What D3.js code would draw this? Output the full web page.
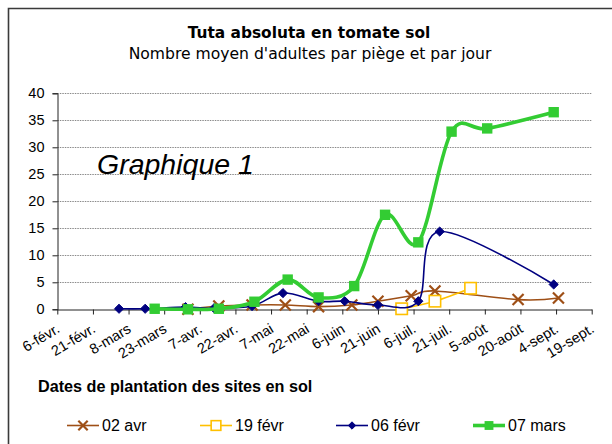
<!DOCTYPE html>
<html>
<head>
<meta charset="utf-8">
<script src="https://cdn.jsdelivr.net/npm/d3@7"></script>
<style>
  html, body { margin: 0; padding: 0; background: #fff; }
  svg { display: block; }
</style>
</head>
<body>
<svg id="chart" width="612" height="444"></svg>
<script>
// ---- Data ----
const seriesNames = ["02 avr", "19 févr", "06 févr", "07 mars"];

const avr02Dates  = ["2009-04-02","2009-04-15","2009-04-29","2009-05-13","2009-05-27","2009-06-10","2009-06-21","2009-07-05","2009-07-15","2009-08-19","2009-09-05"];
const avr02Values = [0.0, 0.6, 0.8, 0.8, 0.5, 0.8, 1.5, 2.5, 3.4, 1.8, 2.1];

const fevr19Dates  = ["2009-07-01","2009-07-15","2009-07-30"];
const fevr19Values = [0.1, 1.5, 3.9];

const fevr06Dates  = ["2009-03-04","2009-03-15","2009-04-01","2009-04-13","2009-04-29","2009-05-12","2009-05-27","2009-06-07","2009-06-21","2009-07-08","2009-07-17","2009-09-03"];
const fevr06Values = [0.1, 0.1, 0.4, 0.2, 0.6, 3.0, 1.5, 1.5, 0.8, 1.5, 14.4, 4.6];

const mars07Dates  = ["2009-03-19","2009-04-02","2009-04-15","2009-04-30","2009-05-14","2009-05-27","2009-06-11","2009-06-24","2009-07-08","2009-07-22","2009-08-06","2009-09-03"];
const mars07Values = [0.1, 0.0, 0.1, 1.4, 5.5, 2.2, 4.3, 17.5, 12.4, 32.9, 33.5, 36.5];

const xTickLabels = ["6-févr.","21-févr.","8-mars","23-mars","7-avr.","22-avr.","7-mai","22-mai","6-juin","21-juin","6-juil.","21-juil.","5-août","20-août","4-sept.","19-sept."];
const yTickValues = [0, 5, 10, 15, 20, 25, 30, 35, 40];

const xStart = "2009-02-06";
const xEnd   = "2009-09-19";

// ---- Setup ----
const parse = d3.utcParse("%Y-%m-%d");
const svg = d3.select("#chart");

const x = d3.scaleUtc().domain([parse(xStart), parse(xEnd)]).range([57.3, 591.7]);
const y = d3.scaleLinear().domain([0, 40]).range([309.3, 93.3]);

const xTickValues = xTickLabels.map((_, i) => d3.utcDay.offset(parse(xStart), 15 * i));

// outer frame
svg.append("path")
  .attr("d", "M8.5,444 L8.5,8.5 L612,8.5")
  .attr("fill", "none").attr("stroke", "#3a3a3a").attr("stroke-width", 1.6);

// titles
svg.append("text").attr("x", 309).attr("y", 37.5).attr("text-anchor", "middle")
  .attr("font-family", "'Comic Sans MS','DejaVu Sans',sans-serif").attr("font-weight", "bold")
  .attr("font-size", 15.4).attr("fill", "#000").text("Tuta absoluta en tomate sol");
svg.append("text").attr("x", 310).attr("y", 58.5).attr("text-anchor", "middle")
  .attr("font-family", "'Comic Sans MS','DejaVu Sans',sans-serif")
  .attr("font-size", 15.6).attr("fill", "#000").text("Nombre moyen d'adultes par piège et par jour");

// gridlines
svg.append("g").selectAll("line").data(yTickValues.filter(v => v > 0)).join("line")
  .attr("x1", 57.3).attr("x2", 591.7)
  .attr("y1", d => Math.round(y(d)) + 0.5).attr("y2", d => Math.round(y(d)) + 0.5)
  .attr("stroke", "#8a8a8a").attr("stroke-width", 1).attr("stroke-dasharray", "1.5,1");

// y axis
const yAxis = svg.append("g").attr("transform", "translate(57.5,0)")
  .call(d3.axisLeft(y).tickValues(yTickValues).tickSize(5).tickPadding(8));
yAxis.select(".domain").attr("stroke", "#222");
yAxis.selectAll(".tick line").attr("stroke", "#222");
yAxis.selectAll("text").attr("font-family", "Arial, 'Liberation Sans', sans-serif")
  .attr("font-size", 14.5).attr("fill", "#000");

// x axis
const xAxis = svg.append("g").attr("transform", "translate(0,309.5)")
  .call(d3.axisBottom(x).tickValues(xTickValues).tickSize(5).tickSizeOuter(0).tickFormat((d, i) => xTickLabels[i]));
xAxis.select(".domain").attr("stroke", "#222");
xAxis.selectAll(".tick line").attr("stroke", "#222");
xAxis.selectAll("text")
  .attr("font-family", "Arial, 'Liberation Sans', sans-serif")
  .attr("font-size", 14.5).attr("fill", "#000")
  .attr("text-anchor", "end")
  .attr("x", 0).attr("y", 0).attr("dy", 0)
  .attr("transform", "translate(3,22) rotate(-31)");

// Graphique 1
svg.append("text").attr("x", 97).attr("y", 174)
  .attr("font-family", "Arial, 'Liberation Sans', sans-serif").attr("font-style", "italic")
  .attr("font-size", 28.5).attr("fill", "#000").text("Graphique 1");

// ---- Series ----
const series = [
  { name: seriesNames[0], dates: avr02Dates, values: avr02Values, color: "#9e4f16", width: 1.6, marker: "x" },
  { name: seriesNames[1], dates: fevr19Dates, values: fevr19Values, color: "#ffc000", width: 1.6, marker: "open" },
  { name: seriesNames[2], dates: fevr06Dates, values: fevr06Values, color: "#000080", width: 1.6, marker: "diamond" },
  { name: seriesNames[3], dates: mars07Dates, values: mars07Values, color: "#33cc33", width: 3.6, marker: "square" }
];

const line = d3.line().x(d => x(d.date)).y(d => y(d.value)).curve(d3.curveCardinal.tension(0));

function drawMarker(g, type, color, cx, cy, scale) {
  const s = scale || 1;
  if (type === "x") {
    const r = 5.5 * s;
    g.append("path").attr("d", `M${cx - r},${cy - r}L${cx + r},${cy + r}M${cx - r},${cy + r}L${cx + r},${cy - r}`)
      .attr("stroke", color).attr("stroke-width", 2.2).attr("fill", "none");
  } else if (type === "open") {
    const r = 5.7 * s;
    g.append("rect").attr("x", cx - r).attr("y", cy - r).attr("width", 2 * r).attr("height", 2 * r)
      .attr("fill", "#fff").attr("stroke", color).attr("stroke-width", 1.6);
  } else if (type === "diamond") {
    const r = 4.6 * s;
    g.append("path").attr("d", `M${cx},${cy - r}L${cx + r},${cy}L${cx},${cy + r}L${cx - r},${cy}Z`)
      .attr("fill", color).attr("stroke", color).attr("stroke-width", 1);
  } else if (type === "square") {
    const r = 5.2 * s;
    g.append("rect").attr("x", cx - r).attr("y", cy - r).attr("width", 2 * r).attr("height", 2 * r)
      .attr("fill", color);
  }
}

series.forEach(s => {
  const pts = s.dates.map((d, i) => ({ date: parse(d), value: s.values[i] }));
  const g = svg.append("g");
  g.append("path").datum(pts).attr("d", line)
    .attr("fill", "none").attr("stroke", s.color).attr("stroke-width", s.width)
    .attr("stroke-linejoin", "round").attr("stroke-linecap", "round");
  pts.forEach(p => drawMarker(g, s.marker, s.color, x(p.date), y(p.value)));
});

// ---- Legend ----
svg.append("text").attr("x", 38).attr("y", 391.5)
  .attr("font-family", "Arial, 'Liberation Sans', sans-serif").attr("font-weight", "bold")
  .attr("font-size", 16.2).attr("fill", "#000").text("Dates de plantation des sites en sol");

const legendX = [67, 200, 336, 473];
series.forEach((s, i) => {
  const g = svg.append("g");
  const x0 = legendX[i], x1 = x0 + 32, ly = 425.5;
  g.append("line").attr("x1", x0).attr("x2", x1).attr("y1", ly).attr("y2", ly)
    .attr("stroke", s.color).attr("stroke-width", s.width);
  drawMarker(g, s.marker, s.color, (x0 + x1) / 2, ly, s.marker === "diamond" ? 0.8 : 0.85);
  g.append("text").attr("x", x1 + 3).attr("y", ly + 5.5)
    .attr("font-family", "Arial, 'Liberation Sans', sans-serif")
    .attr("font-size", 16).attr("fill", "#000").text(s.name);
});
</script>
</body>
</html>
